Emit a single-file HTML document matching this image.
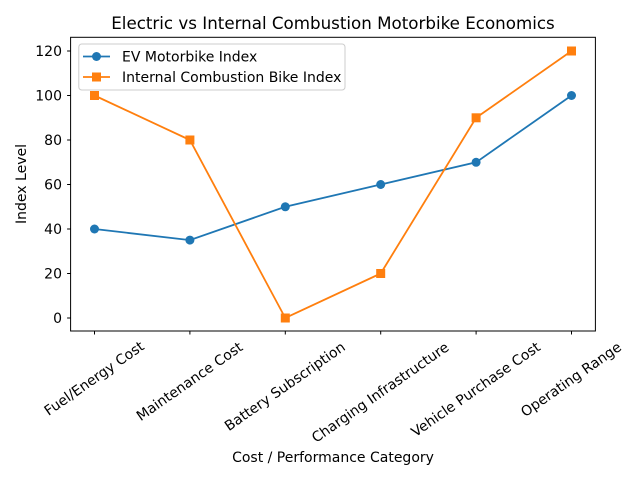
<!DOCTYPE html>
<html><head><meta charset="utf-8"><style>body{margin:0;background:#fff}svg{display:block}text{font-family:"DejaVu Sans","Liberation Sans",sans-serif;fill:#000}</style></head><body>
<svg width="640" height="480" viewBox="0 0 640 480" xmlns="http://www.w3.org/2000/svg">
<text x="333" y="29" font-size="16.7" text-anchor="middle">Electric vs Internal Combustion Motorbike Economics</text>
<rect x="70.6" y="37.3" width="524.8" height="293.7" fill="none" stroke="#000" stroke-width="1"/>
<g stroke="#000">
<line x1="67.1" x2="70.6" y1="318" y2="318"/><line x1="67.1" x2="70.6" y1="273.5" y2="273.5"/><line x1="67.1" x2="70.6" y1="229" y2="229"/><line x1="67.1" x2="70.6" y1="184.5" y2="184.5"/><line x1="67.1" x2="70.6" y1="140" y2="140"/><line x1="67.1" x2="70.6" y1="95.5" y2="95.5"/><line x1="67.1" x2="70.6" y1="51" y2="51"/>
</g>
<g font-size="14" text-anchor="end">
<text x="62" y="323">0</text><text x="62" y="278.5">20</text><text x="62" y="234">40</text><text x="62" y="189.5">60</text><text x="62" y="145">80</text><text x="62" y="100.5">100</text><text x="62" y="56">120</text>
</g>
<text font-size="14" text-anchor="middle" transform="translate(26,184) rotate(-90)">Index Level</text>
<g stroke="#000">
<line x1="94.5" x2="94.5" y1="331" y2="334.5"/><line x1="189.9" x2="189.9" y1="331" y2="334.5"/><line x1="285.3" x2="285.3" y1="331" y2="334.5"/><line x1="380.7" x2="380.7" y1="331" y2="334.5"/><line x1="476.1" x2="476.1" y1="331" y2="334.5"/><line x1="571.5" x2="571.5" y1="331" y2="334.5"/>
</g>
<g font-size="14" text-anchor="middle" dominant-baseline="central">
<text transform="translate(94.5,379) rotate(-35)">Fuel/Energy Cost</text>
<text transform="translate(189.9,382) rotate(-35)">Maintenance Cost</text>
<text transform="translate(285.3,387) rotate(-35)">Battery Subscription</text>
<text transform="translate(380.7,393) rotate(-35)">Charging Infrastructure</text>
<text transform="translate(476.1,390) rotate(-35)">Vehicle Purchase Cost</text>
<text transform="translate(571.5,380) rotate(-35)">Operating Range</text>
</g>
<text x="333" y="462" font-size="14" text-anchor="middle">Cost / Performance Category</text>
<polyline fill="none" stroke="#1f77b4" stroke-width="1.8" points="94.5,229 189.9,240.1 285.3,206.8 380.7,184.5 476.1,162.3 571.5,95.5"/>
<g fill="#1f77b4"><circle cx="94.5" cy="229" r="4.5"/><circle cx="189.9" cy="240.1" r="4.5"/><circle cx="285.3" cy="206.8" r="4.5"/><circle cx="380.7" cy="184.5" r="4.5"/><circle cx="476.1" cy="162.3" r="4.5"/><circle cx="571.5" cy="95.5" r="4.5"/></g>
<polyline fill="none" stroke="#ff7f0e" stroke-width="1.8" points="94.5,95.5 189.9,140 285.3,318 380.7,273.5 476.1,117.8 571.5,51"/>
<g fill="#ff7f0e"><rect x="90" y="91" width="9" height="9"/><rect x="185.4" y="135.5" width="9" height="9"/><rect x="280.8" y="313.5" width="9" height="9"/><rect x="376.2" y="269" width="9" height="9"/><rect x="471.6" y="113.3" width="9" height="9"/><rect x="567" y="46.5" width="9" height="9"/></g>
<rect x="78.8" y="44" width="266.2" height="46" rx="3" fill="#fff" fill-opacity="0.8" stroke="#ccc"/>
<line x1="83" x2="110" y1="56.5" y2="56.5" stroke="#1f77b4" stroke-width="1.8"/><circle cx="96.5" cy="56.5" r="4.5" fill="#1f77b4"/>
<text x="122" y="61.5" font-size="14">EV Motorbike Index</text>
<line x1="83" x2="110" y1="77" y2="77" stroke="#ff7f0e" stroke-width="1.8"/><rect x="92" y="72.5" width="9" height="9" fill="#ff7f0e"/>
<text x="122" y="82" font-size="14">Internal Combustion Bike Index</text>
</svg>
</body></html>
